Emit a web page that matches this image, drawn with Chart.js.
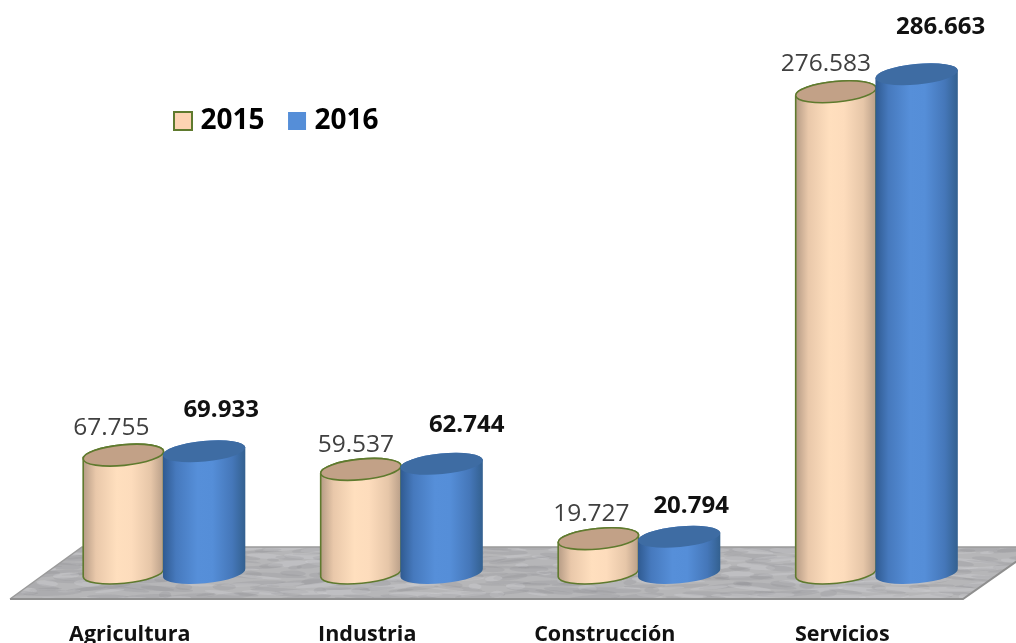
<!DOCTYPE html>
<html lang="es">
<head>
<meta charset="utf-8">
<style>html,body{margin:0;padding:0;background:#fff;overflow:hidden}#wrap{width:1016px;height:643px}#c{filter:blur(0.45px)}</style>
<script src="https://cdn.jsdelivr.net/npm/chart.js@4/dist/chart.umd.js"></script>
</head>
<body>
<div id="wrap"><canvas id="c" width="1016" height="643"></canvas></div>
<script>
const categories = ['Agricultura', 'Industria', 'Construcción', 'Servicios'];
const values2015 = [67.755, 59.537, 19.727, 276.583];
const values2016 = [69.933, 62.744, 20.794, 286.663];
const seriesNames = ['2015', '2016'];

// Hand-placed nudges of the value labels relative to the top of each cylinder
const nudge2015 = [[-12, -27], [-5, -24], [-7, -25], [-10, -28]];
const nudge2016 = [[17, -41], [25, -39], [12, -31], [24, -47]];

const FONT = '"Open Sans", sans-serif';
const RY = 10.3, TILT = -5.5 * Math.PI / 180;

const looks = {
  '2015': {grow: 0, stops: ['#b59b85', '#e9c8aa', '#ffdfbe', '#fddcbc', '#e6c6a8', '#b89e88'], cap: '#c2a187', line: '#5f7a2e', lw: 1.6},
  '2016': {grow: 1, stops: ['#2f5a90', '#4679bd', '#568fd9', '#558ed8', '#4577b9', '#33608f'], cap: '#3e6ca3', line: null, lw: 0}
};

function tiltedEllipse(ctx, cx, cy, rx, start, end) {
  ctx.ellipse(cx, cy, rx, RY, TILT, start, end);
}

Chart.BarElement.prototype.draw = function (ctx) {
  const {x, y, base, width} = this;
  const look = looks[this.$seriesName] || looks['2015'];
  const rx = width / 2 + look.grow;
  const g = ctx.createLinearGradient(x - rx, 0, x + rx, 0);
  [0, .16, .42, .6, .84, 1].forEach((p, i) => g.addColorStop(p, look.stops[i]));
  ctx.save();
  ctx.beginPath();
  tiltedEllipse(ctx, x, base, rx, 0, Math.PI);
  tiltedEllipse(ctx, x, y, rx, Math.PI, 0);
  ctx.closePath();
  ctx.fillStyle = g;
  ctx.fill();
  if (look.line) { ctx.strokeStyle = look.line; ctx.lineWidth = look.lw; ctx.stroke(); }
  ctx.beginPath();
  tiltedEllipse(ctx, x, y, rx, 0, Math.PI * 2);
  ctx.fillStyle = look.cap;
  ctx.fill();
  if (look.line) { ctx.strokeStyle = look.line; ctx.lineWidth = look.lw; ctx.stroke(); }
  ctx.restore();
};

const floorPlugin = {
  id: 'marbleFloor',
  beforeDraw(chart) {
    // move the legend to its spot inside the plot
    const lg = chart.legend;
    lg.left = 150.5; lg.right = 700; lg.top = 78; lg.bottom = 160;
  },
  beforeDatasetsDraw(chart) {
    const {ctx, chartArea: a} = chart;
    const tl = [a.left + 37, a.bottom - 26], tr = [a.right + 42, a.bottom - 26];
    const br = [a.right - 32, a.bottom + 26], bl = [a.left - 35, a.bottom + 26];
    ctx.save();
    ctx.beginPath();
    ctx.moveTo(...tl); ctx.lineTo(...tr); ctx.lineTo(...br); ctx.lineTo(...bl); ctx.closePath();
    ctx.fillStyle = '#b6b6b8';
    ctx.fill();
    ctx.save();
    ctx.clip();
    // marble veining: low-discrepancy placement of soft streaks
    const w = tr[0] - bl[0], h = bl[1] - tl[1];
    for (let i = 0; i < 420; i++) {
      const px = bl[0] + ((i * 0.618034) % 1) * w;
      const py = tl[1] + ((i * 0.754878) % 1) * h;
      const len = 6 + ((i * 0.569840) % 1) * 26;
      const dark = i % 3 !== 0;
      ctx.beginPath();
      ctx.ellipse(px, py, len, 1 + ((i * 0.3247) % 1) * 2.4, -0.12 + ((i * 0.41) % 1) * 0.24, 0, Math.PI * 2);
      ctx.fillStyle = dark ? 'rgba(125,125,130,0.16)' : 'rgba(222,222,224,0.24)';
      ctx.fill();
    }
    ctx.restore();
    ctx.beginPath();
    ctx.moveTo(...bl); ctx.lineTo(...tl); ctx.lineTo(...tr);
    ctx.strokeStyle = '#9b9b9b'; ctx.lineWidth = 1.5; ctx.stroke();
    ctx.beginPath();
    ctx.moveTo(...bl); ctx.lineTo(...br); ctx.lineTo(...tr);
    ctx.strokeStyle = '#8f8f8f'; ctx.lineWidth = 2; ctx.stroke();
    ctx.restore();
    chart.data.datasets.forEach((ds, i) => {
      chart.getDatasetMeta(i).data.forEach(el => { el.$seriesName = ds.label; });
    });
  }
};

const valueLabelPlugin = {
  id: 'valueLabels',
  // the 2016 cylinders overlap the 2015 ones, so they are painted after them
  beforeDatasetDraw(chart, args) {
    if (args.index === 1) return false;
  },
  afterDatasetsDraw(chart) {
    const {ctx} = chart;
    chart.getDatasetMeta(1).data.forEach(el => el.draw(ctx));
    ctx.save();
    ctx.textAlign = 'center';
    ctx.textBaseline = 'middle';
    chart.getDatasetMeta(0).data.forEach((el, i) => {
      ctx.font = '24.5px ' + FONT;
      ctx.fillStyle = '#404040';
      ctx.fillText(values2015[i].toFixed(3), el.x + nudge2015[i][0], el.y + nudge2015[i][1]);
    });
    chart.getDatasetMeta(1).data.forEach((el, i) => {
      ctx.font = 'bold 24px ' + FONT;
      ctx.fillStyle = '#111111';
      ctx.fillText(values2016[i].toFixed(3), el.x + nudge2016[i][0], el.y + nudge2016[i][1]);
    });
    ctx.restore();
  }
};

new Chart(document.getElementById('c'), {
  type: 'bar',
  data: {
    labels: categories,
    datasets: [
      {label: seriesNames[0], data: values2015, backgroundColor: '#fdd3b2', borderColor: '#5f7a2e', borderWidth: 2, clip: false},
      {label: seriesNames[1], data: values2016, backgroundColor: '#558ed8', borderColor: '#558ed8', borderWidth: 0, clip: false}
    ]
  },
  plugins: [floorPlugin, valueLabelPlugin],
  options: {
    responsive: false,
    animation: false,
    layout: {padding: {top: 0, left: 45, right: 21, bottom: 0}},
    datasets: {bar: {categoryPercentage: 0.68, barPercentage: 1}},
    scales: {
      x: {
        grid: {display: false},
        border: {display: false},
        afterFit(s) { s.height = 70; },
        ticks: {
          labelOffset: -34,
          padding: 41,
          maxRotation: 0,
          color: '#111111',
          font: {family: FONT, size: 21.5, weight: 'bold'}
        }
      },
      y: {display: false, min: 0, max: 300}
    },
    plugins: {
      tooltip: {enabled: false},
      legend: {
        position: 'top',
        align: 'start',
        maxHeight: 51,
        labels: {
          usePointStyle: true,
          pointStyle: 'rect',
          boxWidth: 7,
          boxHeight: 18,
          padding: 29,
          color: '#000000',
          font: {family: FONT, size: 28, weight: 'bold'}
        }
      }
    }
  }
});
</script>
</body>
</html>
